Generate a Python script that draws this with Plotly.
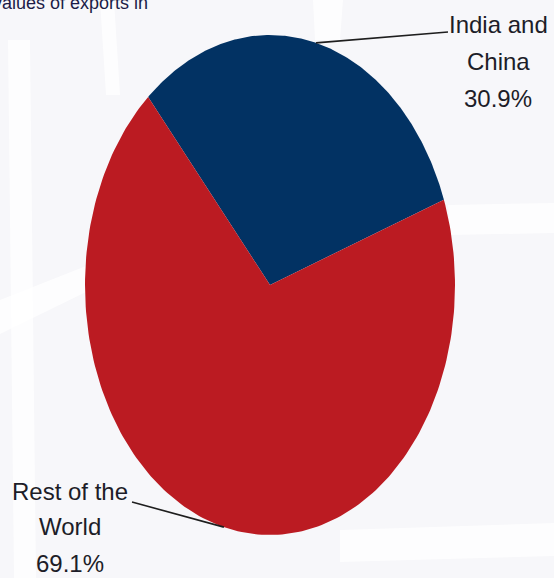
import numpy as np
import plotly.graph_objects as go

# Share of exports by destination
regions = [["India and", "China"], ["Rest of the", "World"]]
shares = [30.9, 69.1]
colors = ["#023263", "#bb1b22"]

# Pie geometry (pixel space, y grows downward)
W, H = 554, 578
cx, cy = 270, 285
rx, ry = 185, 250
start_deg = 131.2          # first slice starts here and runs clockwise

fig = go.Figure()

# faint white decorative bands on the light backdrop
bands = [
    [(8, 40), (30, 40), (36, 578), (14, 578)],
    [(100, 0), (114, 0), (120, 95), (106, 95)],
    [(313, 0), (343, 0), (340, 40), (315, 40)],
    [(448, 205), (554, 203), (554, 233), (450, 235)],
    [(0, 300), (86, 266), (86, 292), (0, 334)],
    [(340, 530), (554, 523), (554, 556), (340, 562)],
]
for b in bands:
    path = "M " + " L ".join(f"{x},{y}" for x, y in b) + " Z"
    fig.add_shape(type="path", path=path, xref="x", yref="y",
                  fillcolor="rgba(255,255,255,0.75)", line_width=0, layer="below")

total = sum(shares)
angle = start_deg
mids = []
for val, col in zip(shares, colors):
    sweep = 360.0 * val / total
    th = np.radians(np.linspace(angle, angle - sweep, 200))
    xs = np.concatenate([[cx], cx + rx * np.cos(th), [cx]])
    ys = np.concatenate([[cy], cy - ry * np.sin(th), [cy]])
    fig.add_trace(go.Scatter(x=xs, y=ys, mode="lines", fill="toself",
                             fillcolor=col, line=dict(width=0, color=col),
                             hoverinfo="skip", showlegend=False))
    mids.append(np.radians(angle - sweep / 2))
    angle -= sweep

label_font = dict(family="Liberation Sans, Arial, sans-serif",
                  size=24, color="#1d1d28")

# leader-line ends and the centres of each label's three text lines
label_pos = [
    dict(lx=448, ly=32, tx=498, lines_y=[24, 61, 98]),
    dict(lx=132, ly=502, tx=70, lines_y=[491, 526, 563]),
]
for name, val, m, p in zip(regions, shares, mids, label_pos):
    ex = cx + rx * np.cos(m)
    ey = cy - ry * np.sin(m)
    fig.add_trace(go.Scatter(x=[ex, p["lx"]], y=[ey, p["ly"]], mode="lines",
                             line=dict(color="#1e1e1e", width=1.6),
                             hoverinfo="skip", showlegend=False))
    texts = name + [f"{val:.1f}%"]
    for t, ty in zip(texts, p["lines_y"]):
        fig.add_annotation(x=p["tx"], y=ty, xref="x", yref="y",
                           text=t, showarrow=False,
                           xanchor="center", yanchor="middle", align="center",
                           font=label_font)

# heading, mostly cut off at the top edge
fig.add_annotation(x=150, y=15, xref="x", yref="y", text="Share of values of exports in",
                   showarrow=False, xanchor="right", yanchor="bottom",
                   font=dict(family="Liberation Sans, Arial, sans-serif",
                             size=18, color="#1c1c48"))

fig.update_xaxes(range=[0, W], visible=False, showgrid=False, zeroline=False)
fig.update_yaxes(range=[H, 0], visible=False, showgrid=False, zeroline=False)
fig.update_layout(width=W, height=H, margin=dict(l=0, r=0, t=0, b=0),
                  paper_bgcolor="#f7f7fa", plot_bgcolor="#f7f7fa")

fig.write_html("out.html")
